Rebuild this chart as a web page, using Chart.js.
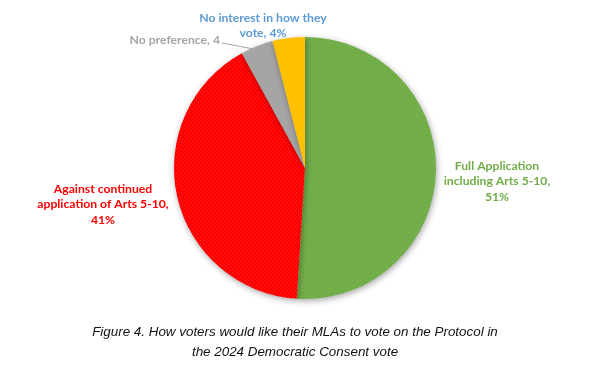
<!DOCTYPE html>
<html>
<head>
<meta charset="utf-8">
<script src="https://cdn.jsdelivr.net/npm/chart.js@4.4.0/dist/chart.umd.min.js"></script>
<style>
  html, body { margin: 0; padding: 0; background: #fff; }
  #wrap { position: relative; width: 600px; height: 378px; }
  #caption {
    position: absolute; left: 0; width: 590px; top: 322px;
    text-align: center; font-family: "Liberation Sans", Arial, sans-serif;
    font-style: italic; font-size: 13.4px; line-height: 20px; color: #111;
  }
</style>
</head>
<body>
<div id="wrap">
  <canvas id="myChart" width="600" height="378"></canvas>
  <div id="caption">Figure 4. How voters would like their MLAs to vote on the Protocol in<br>the 2024 Democratic Consent vote</div>
</div>
<script>
var categories = ['Full Application including Arts 5-10', 'Against continued application of Arts 5-10', 'No preference', 'No interest in how they vote'];
var values = [51, 41, 4, 4];
var sliceColors = ['#70AD47', '#FF0000', '#A5A5A5', '#FFC000'];
var labelColors = ['#70AD47', '#FF0000', '#A5A5A5', '#5B9BD5'];
var labelLines = [
    ['Full Application', 'including Arts 5-10,', '51%'],
    ['Against continued', 'application of Arts 5-10,', '41%'],
    ['No preference, 4'],
    ['No interest in how they', 'vote, 4%']
];

function dotted(base, dot) {
    var c = document.createElement('canvas');
    c.width = 4; c.height = 4;
    var x = c.getContext('2d');
    x.fillStyle = base;
    x.fillRect(0, 0, 4, 4);
    x.fillStyle = dot;
    x.fillRect(0, 0, 1, 1);
    x.fillRect(2, 2, 1, 1);
    return x.createPattern(c, 'repeat');
}

var fills = [
    dotted(sliceColors[0], '#7fb65a'),
    dotted(sliceColors[1], '#ff2a2a'),
    sliceColors[2],
    sliceColors[3]
];

var shadowPlugin = {
    id: 'shadow',
    beforeDatasetsDraw: function (chart) {
        var c = chart.ctx;
        c.save();
        c.shadowColor = 'rgba(0,0,0,0.35)';
        c.shadowBlur = 6;
        c.shadowOffsetX = 1;
        c.shadowOffsetY = 2;
    },
    afterDatasetsDraw: function (chart) {
        chart.ctx.restore();
    }
};

// label anchors (text centre, first line) per slice
var labelPos = [
    { x: 497, y: 166, align: 'center' },
    { x: 103, y: 189, align: 'center' },
    { x: 220, y: 40, align: 'right' },
    { x: 263, y: 18, align: 'center' }
];

var labelPlugin = {
    id: 'sliceLabels',
    afterDatasetsDraw: function (chart) {
        var c = chart.ctx;
        var arcs = chart.getDatasetMeta(0).data;
        c.save();
        c.font = 'bold 12.2px Lato, "Open Sans", sans-serif';
        c.textBaseline = 'middle';
        for (var i = 0; i < arcs.length; i++) {
            var p = labelPos[i];
            c.fillStyle = labelColors[i];
            c.textAlign = p.align;
            for (var k = 0; k < labelLines[i].length; k++) {
                c.fillText(labelLines[i][k], p.x, p.y + k * 15.5);
            }
        }
        // leader line for the small grey slice
        var a = arcs[2].getProps(['x', 'y', 'startAngle', 'endAngle', 'outerRadius'], true);
        var mid = (a.startAngle + a.endAngle) / 2;
        var ex = a.x + Math.cos(mid) * (a.outerRadius - 4);
        var ey = a.y + Math.sin(mid) * (a.outerRadius - 4);
        c.strokeStyle = '#A5A5A5';
        c.lineWidth = 1;
        c.beginPath();
        c.moveTo(labelPos[2].x + 2, labelPos[2].y + 3);
        c.lineTo(ex, ey);
        c.stroke();
        c.restore();
    }
};

var ctx = document.getElementById('myChart').getContext('2d');
var myChart = new Chart(ctx, {
    type: 'pie',
    data: {
        labels: categories,
        datasets: [{
            data: values,
            backgroundColor: fills,
            borderWidth: 0
        }]
    },
    options: {
        responsive: false,
        animation: false,
        layout: {
            padding: { top: 37, bottom: 79, left: 174, right: 164 }
        },
        plugins: {
            legend: { display: false },
            tooltip: { enabled: false }
        }
    },
    plugins: [shadowPlugin, labelPlugin]
});
</script>
</body>
</html>
